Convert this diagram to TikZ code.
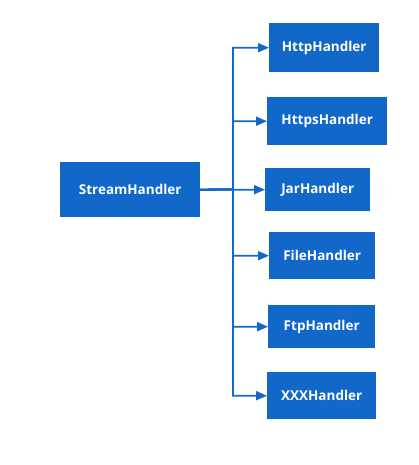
\documentclass[tikz,border=0pt]{standalone}
\usepackage{fontspec}
\setmainfont{Open Sans}
\usetikzlibrary{arrows.meta}
\definecolor{boxblue}{RGB}{17,104,200}
\begin{document}
\begin{tikzpicture}[x=1pt,y=-1pt,
  hbox/.style={draw=none,fill=boxblue,text=white,font=\fontsize{13.5}{16}\selectfont\bfseries,inner sep=0pt,anchor=north west},
  arr/.style={draw=boxblue,line width=1.8pt,-{Triangle[length=11pt,width=9pt]}}]
\useasboundingbox (0,0) rectangle (418,465);
\node[hbox,minimum width=140pt,minimum height=55pt] (sh) at (60,162) {StreamHandler};
\node[hbox,minimum width=110pt,minimum height=49pt] (h1) at (269,23) {HttpHandler};
\node[hbox,minimum width=120pt,minimum height=48pt] (h2) at (267,97) {HttpsHandler};
\node[hbox,minimum width=105pt,minimum height=43pt] (h3) at (265,168) {JarHandler};
\node[hbox,minimum width=106pt,minimum height=47pt] (h4) at (269,232) {FileHandler};
\node[hbox,minimum width=107pt,minimum height=43pt] (h5) at (268,305) {FtpHandler};
\node[hbox,minimum width=109pt,minimum height=47pt] (h6) at (267,372) {XXXHandler};
\coordinate (j) at (233,189.5);
\foreach \t in {h1,h2,h3,h4,h5,h6}
  \draw[arr] (sh.east) -- (j) |- (\t.west);
\end{tikzpicture}
\end{document}
